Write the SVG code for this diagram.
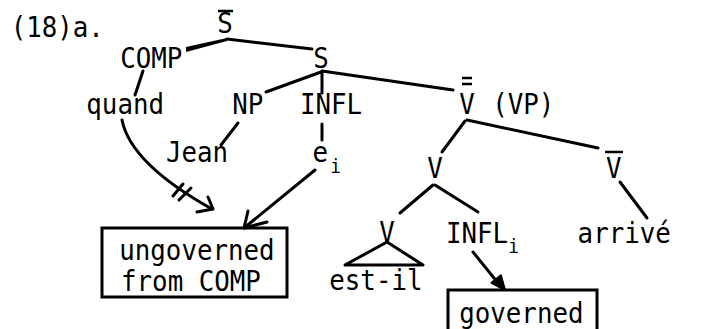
<svg xmlns="http://www.w3.org/2000/svg" width="702" height="329" viewBox="0 0 702 329">
  <style>
    /* narrow typewriter-like lettering: mono face squeezed horizontally;
       x positions below are given in the squeezed (÷0.89) space */
    text { font-family: "DejaVu Sans Mono", "Liberation Mono", monospace; font-size: 29px; fill: #000; transform: scale(0.89, 1); }
    text.sub { font-size: 20px; }
    .edge { stroke: #000; stroke-width: 3; fill: none; stroke-linecap: round; stroke-linejoin: round; }
    .bar { stroke: #000; stroke-width: 2.5; }
    .box { fill: none; stroke: #000; stroke-width: 3; }
    .head { fill: #000; stroke: #000; stroke-width: 2; stroke-linejoin: round; }
  </style>

  <rect width="702" height="329" fill="#fff"/>

  <text id="label" x="12" y="37">(18)a.</text>

  <!-- tree nodes -->
  <g id="sbar">
    <line class="bar" x1="218" y1="11" x2="233" y2="11"/>
    <text x="244" y="33">S</text>
  </g>
  <g id="comp"><text x="135" y="68">COMP</text></g>
  <g id="s"><text x="352" y="68">S</text></g>
  <g id="quand"><text x="97" y="114">quand</text></g>
  <g id="np"><text x="261" y="114">NP</text></g>
  <g id="infl"><text x="337" y="114">INFL</text></g>
  <g id="vbarbar">
    <line class="bar" x1="462" y1="78" x2="472" y2="78"/>
    <line class="bar" x1="462" y1="84" x2="472" y2="84"/>
    <text x="516" y="114">V</text>
    <text x="553" y="114">(VP)</text>
  </g>
  <g id="jean"><text x="186.5" y="162">Jean</text></g>
  <g id="ei">
    <text x="351" y="162">e</text>
    <text class="sub" x="371" y="173">i</text>
  </g>
  <g id="v1"><text x="480" y="178">V</text></g>
  <g id="vbar">
    <line class="bar" x1="605" y1="152" x2="623" y2="152"/>
    <text x="681" y="178">V</text>
  </g>
  <g id="v0"><text x="426" y="242">V</text></g>
  <g id="infli">
    <text x="501" y="243">INFL</text>
    <text class="sub" x="571" y="253">i</text>
  </g>
  <g id="arrive"><text x="649" y="243">arrivé</text></g>
  <g id="estil">
    <polygon class="edge" points="345,265 387,242 423,265"/>
    <text x="370" y="290">est-il</text>
  </g>
  <g id="ungoverned">
    <rect class="box" x="102" y="228" width="185" height="69"/>
    <text x="134" y="260">ungoverned</text>
    <text x="136" y="291">from COMP</text>
  </g>
  <g id="governed">
    <rect class="box" x="448" y="290" width="149" height="50"/>
    <text x="516" y="323">governed</text>
  </g>

  <!-- branches and arrows -->
  <g id="connectors">
    <polygon fill="#000" points="186,47 227,38 227,41 186,52"/>
    <line class="edge" x1="227" y1="39" x2="312" y2="49"/>
    <line class="edge" x1="143" y1="71" x2="135" y2="95"/>
    <line class="edge" x1="321" y1="72" x2="266" y2="92"/>
    <line class="edge" x1="322" y1="72" x2="322" y2="93"/>
    <line class="edge" x1="322" y1="71" x2="453" y2="90"/>
    <line class="edge" x1="238" y1="123" x2="221" y2="145"/>
    <line class="edge" x1="322" y1="124" x2="322" y2="140"/>
    <line class="edge" x1="465" y1="121" x2="442" y2="152"/>
    <line class="edge" x1="467" y1="120" x2="598" y2="148"/>
    <line class="edge" x1="433" y1="185" x2="400" y2="213"/>
    <line class="edge" x1="435" y1="185" x2="478" y2="212"/>
    <line class="edge" x1="620" y1="182" x2="647" y2="218"/>

    <!-- quand: blocked government -->
    <path class="edge" d="M122,120 C128,150 160,180 212,209"/>
    <path class="edge" d="M208,197 L213,209 L197,212"/>
    <line class="edge" x1="173" y1="196" x2="183" y2="184"/>
    <line class="edge" x1="179" y1="200" x2="191" y2="188"/>

    <!-- e_i -->
    <line class="edge" x1="315" y1="170" x2="244" y2="228"/>
    <path class="edge" d="M267,222 L244,228 L248,211"/>

    <!-- INFL_i -->
    <line class="edge" x1="473" y1="252" x2="498" y2="283"/>
    <polygon class="head" points="505,290 491.5,282.9 500.9,275.3"/>
  </g>
</svg>
